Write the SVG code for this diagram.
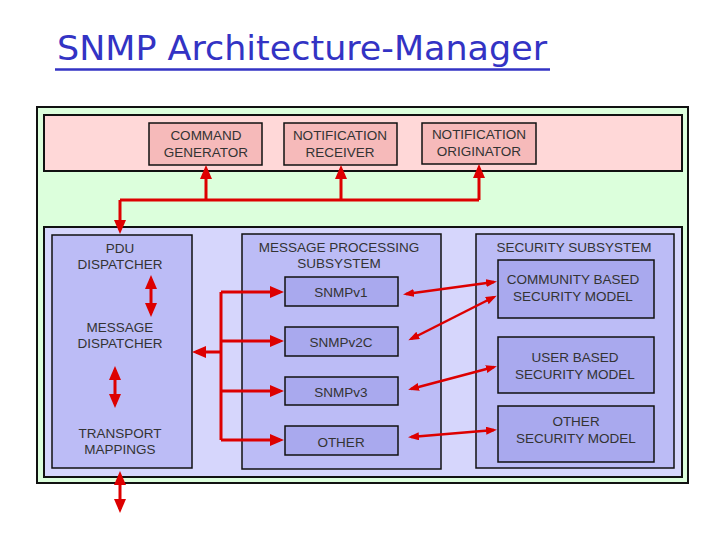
<svg xmlns="http://www.w3.org/2000/svg" width="720" height="540" viewBox="0 0 720 540">
<defs>
<style>
.t{font-family:"Liberation Sans",Arial,sans-serif;font-size:13.5px;fill:#333;text-anchor:middle}
.box{stroke:#111;stroke-width:1.5}
.pink{fill:#f6baba}
.blue1{fill:#bcbcf6}
.blue2{fill:#a9a9ee}
.c{fill:none;stroke:#dd0000;stroke-width:3}
.s{fill:none;stroke:#dd0000;stroke-width:2.5}
</style>
<marker id="ah" markerUnits="userSpaceOnUse" markerWidth="14" markerHeight="12" refX="10" refY="6" orient="auto-start-reverse">
<path d="M0,0 L14,6 L0,12 z" fill="#dd0000"/>
</marker>
<marker id="as" markerUnits="userSpaceOnUse" markerWidth="11" markerHeight="8" refX="8" refY="4" orient="auto-start-reverse">
<path d="M0,0 L11,4 L0,8 z" fill="#dd0000"/>
</marker>
</defs>
<rect width="720" height="540" fill="#fff"/>
<g id="title">
<text x="57" y="60" font-family="'Comic Sans MS','DejaVu Sans',sans-serif" font-size="34" fill="#3333c4" textLength="490" lengthAdjust="spacingAndGlyphs">SNMP Architecture-Manager</text>
<line x1="55" y1="69.5" x2="550" y2="69.5" stroke="#3333c4" stroke-width="2.5"/>
</g>
<g id="frame">
<rect x="37" y="107" width="651" height="376" fill="#dcffdc" stroke="#111" stroke-width="2"/>
<rect x="44" y="115" width="638" height="56" fill="#ffd8d8" stroke="#111" stroke-width="2"/>
<rect x="44" y="227" width="638" height="250" fill="#d6d6fc" stroke="#111" stroke-width="2"/>
</g>
<g id="command-generator">
<rect class="box pink" x="149" y="123" width="113" height="42"/>
<text class="t" x="206" y="140">COMMAND</text>
<text class="t" x="206" y="157">GENERATOR</text>
</g>
<g id="notification-receiver">
<rect class="box pink" x="284" y="123" width="113" height="42"/>
<text class="t" x="340" y="140">NOTIFICATION</text>
<text class="t" x="340" y="157">RECEIVER</text>
</g>
<g id="notification-originator">
<rect class="box pink" x="422" y="123" width="114" height="41"/>
<text class="t" x="479" y="139">NOTIFICATION</text>
<text class="t" x="479" y="156">ORIGINATOR</text>
</g>
<g id="pdu-dispatcher">
<rect class="box blue1" x="52" y="235" width="140" height="233"/>
<text class="t" x="120" y="253">PDU</text>
<text class="t" x="120" y="269">DISPATCHER</text>
<text class="t" x="120" y="332">MESSAGE</text>
<text class="t" x="120" y="348">DISPATCHER</text>
<text class="t" x="120" y="438">TRANSPORT</text>
<text class="t" x="120" y="454">MAPPINGS</text>
</g>
<g id="message-processing">
<rect class="box blue1" x="242" y="234" width="199" height="235"/>
<text class="t" x="339" y="252">MESSAGE PROCESSING</text>
<text class="t" x="339" y="268">SUBSYSTEM</text>
</g>
<g id="snmpv1">
<rect class="box blue2" x="285" y="277" width="113" height="29"/>
<text class="t" x="341" y="297">SNMPv1</text>
</g>
<g id="snmpv2c">
<rect class="box blue2" x="285" y="327" width="113" height="29"/>
<text class="t" x="341" y="347">SNMPv2C</text>
</g>
<g id="snmpv3">
<rect class="box blue2" x="285" y="377" width="113" height="28"/>
<text class="t" x="341" y="397">SNMPv3</text>
</g>
<g id="other">
<rect class="box blue2" x="285" y="426" width="113" height="29"/>
<text class="t" x="341" y="447">OTHER</text>
</g>
<g id="security-subsystem">
<rect class="box blue1" x="476" y="234" width="198" height="234"/>
<text class="t" x="574" y="252">SECURITY SUBSYSTEM</text>
</g>
<g id="community-model">
<rect class="box blue2" x="498" y="260" width="156" height="58"/>
<text class="t" x="573" y="284">COMMUNITY BASED</text>
<text class="t" x="573" y="301">SECURITY MODEL</text>
</g>
<g id="user-model">
<rect class="box blue2" x="498" y="337" width="156" height="56"/>
<text class="t" x="575" y="362">USER BASED</text>
<text class="t" x="575" y="379">SECURITY MODEL</text>
</g>
<g id="other-model">
<rect class="box blue2" x="498" y="406" width="156" height="56"/>
<text class="t" x="576" y="426">OTHER</text>
<text class="t" x="576" y="443">SECURITY MODEL</text>
</g>
<g id="connectors">
<path class="c" d="M120,200 H479"/>
<path class="c" d="M206,200 V169" marker-end="url(#ah)"/>
<path class="c" d="M341,200 V169" marker-end="url(#ah)"/>
<path class="c" d="M479,200 V168" marker-end="url(#ah)"/>
<path class="c" d="M120,200 V230" marker-end="url(#ah)"/>
<path class="c" d="M221,292 V440"/>
<path class="c" d="M221,292 H280" marker-end="url(#ah)"/>
<path class="c" d="M221,341 H280" marker-end="url(#ah)"/>
<path class="c" d="M221,391 H280" marker-end="url(#ah)"/>
<path class="c" d="M221,440 H280" marker-end="url(#ah)"/>
<path class="c" d="M221,352 H196" marker-end="url(#ah)"/>
<path class="c" d="M151,279 V313" marker-start="url(#ah)" marker-end="url(#ah)"/>
<path class="c" d="M115,370 V404" marker-start="url(#ah)" marker-end="url(#ah)"/>
<path class="c" d="M120,475 V509" marker-start="url(#ah)" marker-end="url(#ah)"/>
<path class="s" d="M406,294 L494,282" marker-start="url(#as)" marker-end="url(#as)"/>
<path class="s" d="M411,339 L494,297" marker-start="url(#as)" marker-end="url(#as)"/>
<path class="s" d="M411,389 L494,367" marker-start="url(#as)" marker-end="url(#as)"/>
<path class="s" d="M411,437 L494,430" marker-start="url(#as)" marker-end="url(#as)"/>
</g>
</svg>
